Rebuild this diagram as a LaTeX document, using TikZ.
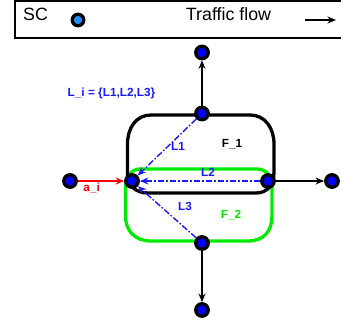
\documentclass[tikz,border=0pt]{standalone}
\usepackage{fontspec}
\setmainfont{Liberation Sans}
\usetikzlibrary{arrows.meta}
\definecolor{nodeblue}{RGB}{0,0,255}
\definecolor{scblue}{RGB}{30,144,255}
\definecolor{lblue}{RGB}{25,25,255}
\definecolor{fgreen}{RGB}{0,235,0}
\definecolor{ared}{RGB}{255,0,0}
\begin{document}
\begin{tikzpicture}[x=1pt,y=-1pt,
  sc/.style={circle, draw=black, line width=3.3pt, fill=nodeblue, minimum size=12.5pt, inner sep=0pt},
  flow/.style={-{Stealth[length=8.5pt,width=7pt]}, line width=1.3pt},
  lane/.style={-{Stealth[length=8.5pt,width=7pt]}, draw=lblue, line width=1.4pt, dash pattern=on 6.5pt off 2pt on 1.5pt off 2pt},
  lbl/.style={font=\fontsize{11.8}{13}\selectfont\bfseries, anchor=base, inner sep=0pt},
  zone/.style={line width=3.3pt, line join=round},
]
\useasboundingbox (0,0) rectangle (341,328);
% legend
\draw[line width=1.2pt] (15,1) rectangle (350,38);
\node[font=\fontsize{17.8}{20}\selectfont, anchor=base west, inner sep=0pt] (sct) at (23,21) {SC};
\node[sc, fill=scblue, minimum size=11.5pt, line width=3.3pt] (scdot) at (78,20) {};
\node[font=\fontsize{17.8}{20}\selectfont, anchor=base, inner sep=0pt] (tf) at (228.5,21) {Traffic flow};
\coordinate (a0) at (305,20);
\coordinate (a1) at (336,20);
\draw[flow] (a0) -- (a1);
% zones
\draw[zone, fgreen] (140,169) -- (257,169) .. controls (266,169) and (272,176) .. (272,186) -- (272,216)
  .. controls (272,231) and (264,241) .. (248,241) -- (151,241)
  .. controls (135,241) and (125.5,231) .. (125.5,216) -- (125.5,188)
  .. controls (125.5,177) and (131,169) .. (140,169) -- cycle;
\draw[zone, black] (151,115) -- (250,115) .. controls (265,115) and (274,128) .. (274,144) -- (274,172)
  .. controls (274,184) and (268,193) .. (256,193) -- (148,193)
  .. controls (136,193) and (127.5,186) .. (127.5,174) -- (127.5,144)
  .. controls (127.5,128) and (136,115) .. (151,115) -- cycle;
% nodes
\node[sc] (top) at (202,52.5) {};
\node[sc] (n1) at (202,113.5) {};
\node[sc] (L) at (132,181) {};
\node[sc] (R) at (268,181) {};
\node[sc] (FL) at (70,181) {};
\node[sc] (FR) at (332,181) {};
\node[sc] (n2) at (202,243) {};
\node[sc] (bot) at (202,310) {};
% connectors
\draw[flow] (n1) -- (top);
\draw[flow] (R) -- (FR);
\draw[flow] (n2) -- (bot);
\draw[flow, ared] (FL) -- (L);
\draw[lane] (n1) -- (L);
\draw[lane] (R) -- (L);
\draw[lane] (n2) -- (L);
% labels
\node[lbl, text=lblue] (li) at (111.5,96.5) {L\_i = \{L1,L2,L3\}};
\node[lbl, text=lblue] (l1) at (178,151) {L1};
\node[lbl, text=lblue] (l2) at (208,177) {L2};
\node[lbl, text=lblue] (l3) at (185,211) {L3};
\node[lbl, text=black] (f1) at (232,148) {F\_1};
\node[lbl, text=fgreen] (f2) at (231,219) {F\_2};
\node[lbl, text=ared] (ai) at (91.7,191.7) {a\_i};
\end{tikzpicture}
\end{document}
